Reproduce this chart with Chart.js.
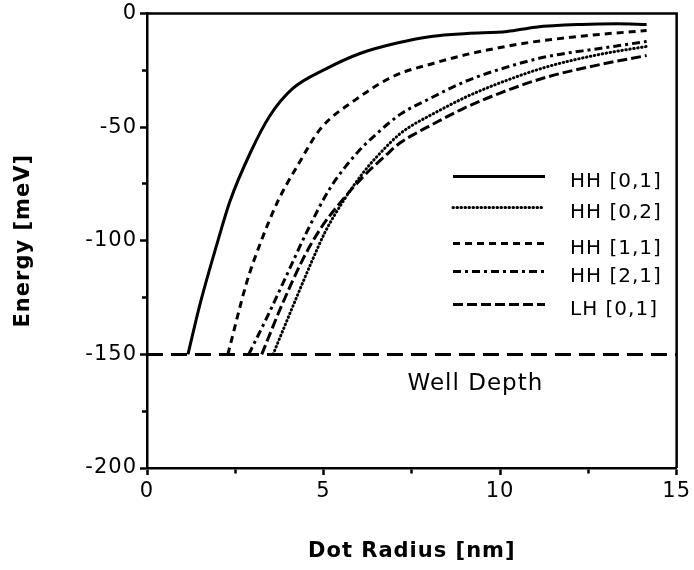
<!DOCTYPE html>
<html>
<head>
<meta charset="utf-8">
<script src="https://cdn.jsdelivr.net/npm/chart.js@4.4.1/dist/chart.umd.min.js"></script>
<style>
  html, body { margin: 0; padding: 0; background: #fff; }
  #c { display: block; }
</style>
</head>
<body>
<canvas id="c" width="694" height="570"></canvas>
<script>
// Confined hole levels vs. dot radius
const seriesNames = ['HH [0,1]', 'HH [0,2]', 'HH [1,1]', 'HH [2,1]', 'LH [0,1]'];

const radiusHH01 = [1.16, 1.5, 1.98, 2.35, 2.92, 3.48, 4.13, 5.04, 6.03, 7.08, 8.1, 9.06, 10.2, 11.0, 12.3, 13.3, 14.15];
const energyHH01 = [-150, -128, -101.5, -82.6, -61.5, -45, -33, -24.6, -17.6, -13, -10, -8.8, -7.9, -6, -4.8, -4.5, -4.8];

const radiusHH02 = [3.57, 4.1, 4.67, 5.05, 5.5, 6.1, 6.6, 7.16, 7.64, 8.0, 9.0, 10.0, 11.32, 12.82, 14.15];
const energyHH02 = [-150, -130, -109, -96, -84, -70.5, -61.5, -53, -48, -45, -37, -30.5, -23.5, -18, -14.5];

const radiusHH11 = [2.29, 2.83, 3.2, 3.71, 4.3, 4.9, 5.9, 7.0, 8.1, 9.06, 10.0, 10.93, 12.0, 12.82, 14.15];
const energyHH11 = [-150, -118, -101.5, -82.5, -66, -51, -38, -27.5, -22, -18, -15, -12.5, -10.5, -9.2, -7.5];

const radiusHH21 = [2.88, 3.42, 3.9, 4.53, 5.18, 5.97, 6.5, 7.16, 8.0, 9.0, 10.0, 11.32, 12.82, 14.15];
const energyHH21 = [-150, -133, -117, -96, -77, -61, -53, -44.5, -37.5, -30, -24.5, -19, -15.4, -12.3];

const radiusLH01 = [3.25, 3.8, 4.42, 4.9, 5.46, 6.11, 6.79, 7.16, 7.64, 8.0, 9.0, 10.0, 11.32, 12.82, 14.15];
const energyLH01 = [-150, -129, -108, -95, -83.5, -72, -62, -57, -52.5, -49.5, -41.5, -35, -28, -22.5, -18.5];

const wellDepth = -150;
const wellRadius = [0, 15];
const wellLabel = 'Well Depth';

const xTitle = 'Dot Radius [nm]';
const yTitle = 'Energy [meV]';

const FONT = '"DejaVu Sans", "Liberation Sans", sans-serif';

function zip(xs, ys) { return xs.map((x, i) => ({ x: x, y: ys[i] })); }

// line dash and cap per series, in legend order
const dashes = [[], [0.5, 3.5], [7, 5], [8, 4, 3, 4], [10, 4]];
const caps = ['butt', 'round', 'butt', 'butt', 'butt'];
const curves = [
  zip(radiusHH01, energyHH01),
  zip(radiusHH02, energyHH02),
  zip(radiusHH11, energyHH11),
  zip(radiusHH21, energyHH21),
  zip(radiusLH01, energyLH01)
];

const datasets = curves.map((data, i) => ({
  label: seriesNames[i],
  data: data,
  borderColor: '#000',
  borderWidth: 3,
  borderDash: dashes[i],
  borderCapStyle: caps[i],
  pointRadius: 0,
  fill: false,
  cubicInterpolationMode: 'monotone'
}));

datasets.push({
  label: wellLabel,
  data: wellRadius.map(r => ({ x: r, y: wellDepth })),
  borderColor: '#000',
  borderWidth: 3,
  borderDash: [16, 8],
  pointRadius: 0,
  fill: false
});

// frame, in-plot legend and the well-depth note
const decorations = {
  id: 'decorations',
  beforeDraw(chart) {
    const ctx = chart.ctx;
    ctx.save();
    ctx.fillStyle = '#fff';
    ctx.fillRect(0, 0, chart.width, chart.height);
    ctx.restore();
    ctx.letterSpacing = '1px';
  },
  afterDraw(chart) {
    const { ctx, chartArea: a, scales: { x, y } } = chart;
    ctx.save();
    ctx.strokeStyle = '#000';
    ctx.lineWidth = 2.5;
    ctx.setLineDash([]);
    ctx.beginPath();
    ctx.moveTo(a.left, a.top);
    ctx.lineTo(a.right, a.top);
    ctx.lineTo(a.right, a.bottom);
    ctx.stroke();

    ctx.fillStyle = '#000';
    ctx.font = '23px ' + FONT;
    ctx.textAlign = 'center';
    ctx.textBaseline = 'middle';
    ctx.fillText(wellLabel, x.getPixelForValue(9.3), y.getPixelForValue(-163));

    // legend
    const rows = [163, 194, 230, 258, 291];
    const x0 = a.left + 306, x1 = a.left + 398, tx = a.left + 423;
    ctx.textAlign = 'left';
    ctx.font = '20px ' + FONT;
    rows.forEach((r, i) => {
      const yy = a.top + r;
      ctx.lineWidth = 3;
      ctx.lineCap = caps[i];
      ctx.setLineDash(dashes[i]);
      ctx.beginPath();
      ctx.moveTo(x0, yy);
      ctx.lineTo(x1, yy);
      ctx.stroke();
      ctx.setLineDash([]);
      ctx.fillText(seriesNames[i], tx, yy + 5);
    });
    ctx.restore();
  }
};

new Chart(document.getElementById('c'), {
  type: 'line',
  data: { datasets: datasets },
  plugins: [decorations],
  options: {
    responsive: false,
    animation: false,
    devicePixelRatio: 1,
    layout: { padding: { top: 12, right: 17, bottom: 0, left: 0 } },
    plugins: { legend: { display: false }, tooltip: { enabled: false } },
    scales: {
      x: {
        type: 'linear',
        min: 0, max: 15,
        afterFit(scale) { scale.height = 102; },
        ticks: {
          stepSize: 2.5,
          color: '#000',
          padding: 4,
          maxRotation: 0,
          autoSkip: false,
          font: { family: FONT, size: 21 },
          callback: v => (v % 5 === 0 ? String(v) : '')
        },
        grid: {
          drawOnChartArea: false,
          drawTicks: true,
          tickLength: 7,
          tickColor: '#000',
          tickWidth: 2.5,
          tickBorderDash: c => (c.tick && c.tick.value % 5 !== 0 ? [4, 50] : [])
        },
        border: { display: true, color: '#000', width: 2.5 },
        title: {
          display: true,
          text: xTitle,
          color: '#000',
          font: { family: FONT, size: 21, weight: 'bold' },
          padding: { top: 0, bottom: 6 }
        }
      },
      y: {
        type: 'linear',
        min: -200, max: 0,
        afterFit(scale) { scale.width = 147; },
        ticks: {
          stepSize: 25,
          color: '#000',
          padding: 3,
          autoSkip: false,
          font: { family: FONT, size: 21, lineHeight: 1 },
          callback: v => (v % 50 === 0 ? String(v) : '')
        },
        grid: {
          drawOnChartArea: false,
          drawTicks: true,
          tickLength: 7,
          tickColor: '#000',
          tickWidth: 2.5,
          tickBorderDash: c => (c.tick && c.tick.value % 50 !== 0 ? [0, 2, 10, 50] : [])
        },
        border: { display: true, color: '#000', width: 2.5 },
        title: {
          display: true,
          text: yTitle,
          color: '#000',
          font: { family: FONT, size: 21, weight: 'bold' },
          padding: { top: 11, bottom: 0 }
        }
      }
    }
  }
});
</script>
</body>
</html>
